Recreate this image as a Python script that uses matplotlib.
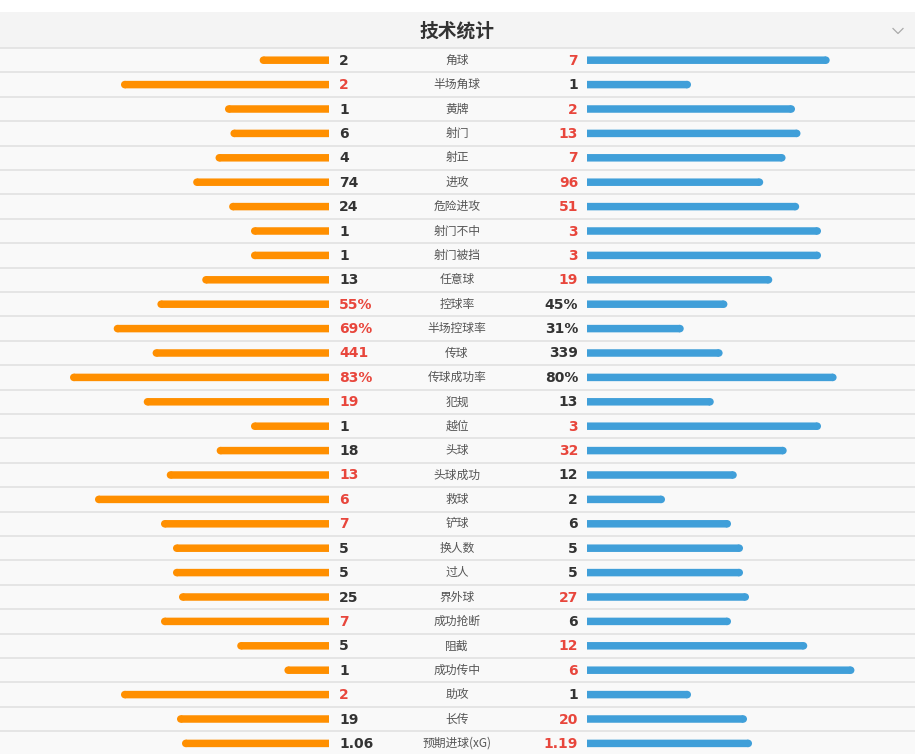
import matplotlib
matplotlib.use("Agg")
import matplotlib.pyplot as plt
from matplotlib.patches import Circle

plt.rcParams['font.family'] = ['Noto Sans CJK SC', 'DejaVu Sans']

title = "技术统计"
labels = ["角球", "半场角球", "黄牌", "射门", "射正", "进攻", "危险进攻", "射门不中",
          "射门被挡", "任意球", "控球率", "半场控球率", "传球", "传球成功率", "犯规",
          "越位", "头球", "头球成功", "救球", "铲球", "换人数", "过人", "界外球",
          "成功抢断", "阻截", "成功传中", "助攻", "长传", "预期进球(xG)"]
home = [2, 2, 1, 6, 4, 74, 24, 1, 1, 13, 55, 69, 441, 83, 19, 1, 18, 13, 6, 7, 5, 5,
        25, 7, 5, 1, 2, 19, 1.06]
away = [7, 1, 2, 13, 7, 96, 51, 3, 3, 19, 45, 31, 339, 80, 13, 3, 32, 12, 2, 6, 5, 5,
        27, 6, 12, 6, 1, 20, 1.19]
is_pct = ["控球率", "半场控球率", "传球成功率"]
home_text = ["2", "2", "1", "6", "4", "74", "24", "1", "1", "13", "55%", "69%", "441",
             "83%", "19", "1", "18", "13", "6", "7", "5", "5", "25", "7", "5", "1", "2",
             "19", "1.06"]
away_text = ["7", "1", "2", "13", "7", "96", "51", "3", "3", "19", "45%", "31%", "339",
             "80%", "13", "3", "32", "12", "2", "6", "5", "5", "27", "6", "12", "6", "1",
             "20", "1.19"]

ORANGE = '#ff8f00'
BLUE = '#409fd9'
RED = '#e8463c'
DARK = '#333333'
GREY = '#555555'

W, H = 915, 754
fig = plt.figure(figsize=(W / 100, H / 100), dpi=100)
ax = fig.add_axes([0, 0, 1, 1])
ax.set_xlim(0, W)
ax.set_ylim(H, 0)
ax.axis('off')
fig.patch.set_facecolor('white')

# layout
band_top, band_bot = 12, 48
row_h = 24.4
full = 312.0
left_in = 329
right_in = 587
bar_h = 7.5
r = bar_h / 2

# background
ax.add_patch(plt.Rectangle((0, band_top), W, band_bot - band_top, color='#f4f4f4', lw=0, zorder=0))
ax.add_patch(plt.Rectangle((0, band_bot), W, H - band_bot, color='#f9f9f9', lw=0, zorder=0))
ax.text(457, 31, title, ha='center', va='center', fontsize=13.5, fontweight='bold', color=DARK)
ax.plot([893, 898, 903], [28.5, 33.5, 28.5], color='#aaaaaa', lw=0.9, zorder=3)

for i, lab in enumerate(labels):
    top = band_bot + i * row_h
    yc = top + row_h / 2
    ax.plot([0, W], [top, top], color='#e0e0e0', lw=1.1, zorder=1)
    h, a = home[i], away[i]
    if lab in is_pct:
        hl, al = h / 100 * full, a / 100 * full
    else:
        tot = h + a
        hl, al = (h / tot * full, a / tot * full) if tot else (0, 0)
    # home bar (leftwards, rounded outer end)
    bh = ax.barh(yc, hl - r, left=left_in - hl + r, height=bar_h, color=ORANGE, lw=0, zorder=2)
    for p in bh:
        p.set_snap(False)
    ax.add_patch(Circle((left_in - hl + r, yc), r, color=ORANGE, lw=0, zorder=2))
    # away bar (rightwards, rounded outer end)
    ba = ax.barh(yc, al - r, left=right_in, height=bar_h, color=BLUE, lw=0, zorder=2)
    for p in ba:
        p.set_snap(False)
    ax.add_patch(Circle((right_in + al - r, yc), r, color=BLUE, lw=0, zorder=2))
    hc = RED if h > a else DARK
    ac = RED if a > h else DARK
    ax.text(339, yc + 0.5, home_text[i], ha='left', va='center', fontsize=10,
            fontweight='bold', color=hc, family=['DejaVu Sans'])
    ax.text(578, yc + 0.5, away_text[i], ha='right', va='center', fontsize=10,
            fontweight='bold', color=ac, family=['DejaVu Sans'])
    ax.text(457, yc, lab, ha='center', va='center', fontsize=8.5, color=GREY)

fig.savefig('out.png', dpi=100, facecolor='white')
